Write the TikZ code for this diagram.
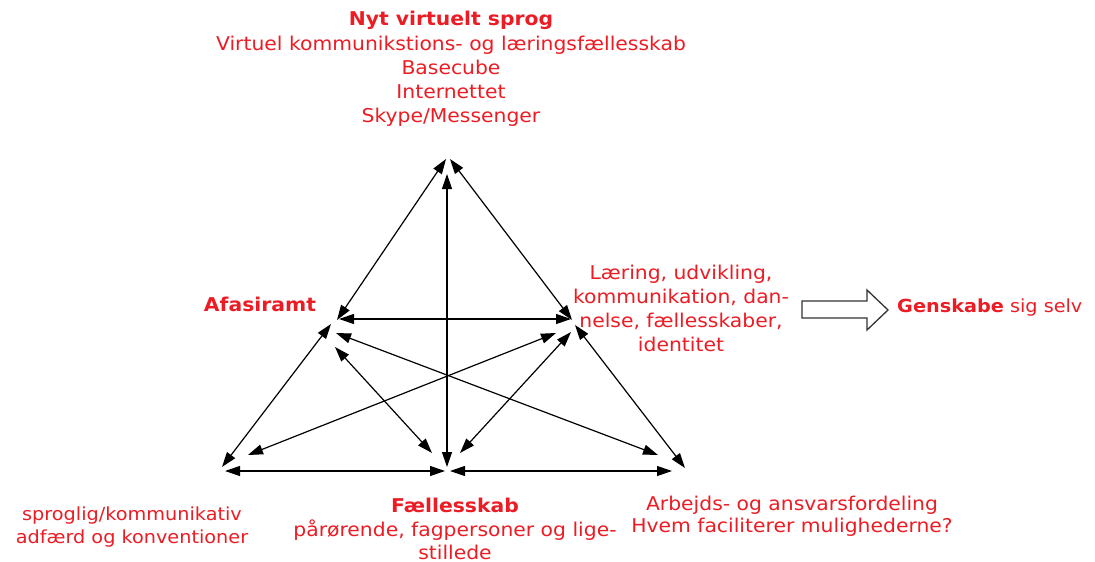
\documentclass[tikz,border=0pt]{standalone}
\usepackage{fontspec}
\setmainfont{DejaVu Sans}[FakeStretch=1.07]
\usetikzlibrary{arrows.meta}
\definecolor{labelred}{RGB}{235,28,36}
\tikzset{
  lbl/.style={text=labelred, align=center, inner sep=0pt, font=\fontsize{19}{24}\selectfont},
  link/.style={draw=black, line width=1.2pt, {Triangle[length=15pt,width=10pt]}-{Triangle[length=15pt,width=10pt]}},
  blockarrow/.style={draw=black!80, line width=1.3pt, fill=white, line join=miter}
}
\begin{document}
\begin{tikzpicture}[x=1pt,y=-1pt]
\useasboundingbox (0,0) rectangle (1095,562);

% labels
\node[lbl] (top) at (451,69) {\textbf{Nyt virtuelt sprog}\\[1pt]
  Virtuel kommunikstions- og læringsfællesskab\\Basecube\\Internettet\\Skype/Messenger};
\node[lbl] (afa) at (260,304) {\textbf{Afasiramt}};
\node[lbl] (lear) at (681,308.5) {Læring, udvikling,\\kommunikation, dan-\\nelse, fællesskaber,\\identitet};
\node[lbl, anchor=west, font=\fontsize{18}{24}\selectfont] (gen) at (897,308) {\textbf{Genskabe} sig selv};
\node[lbl, font=\fontsize{18}{24}\selectfont] (spr) at (132,527.5) {sproglig/kommunikativ\\[-1pt]adfærd og konventioner};
\node[lbl] (fal) at (455,528.5) {\textbf{Fællesskab}\\pårørende, fagpersoner og lige-\\[-1pt]stillede};
\node[lbl] (arb) at (792,516) {Arbejds- og ansvarsfordeling\\[-2pt]Hvem faciliterer mulighederne?};

% connector ends around the six corners
\coordinate (Ta) at (446,159);  \coordinate (Tl) at (450,159);  \coordinate (Tf) at (447,174);
\coordinate (At) at (337,320);  \coordinate (Al) at (339,319);  \coordinate (Ab) at (331,324);
\coordinate (Ar) at (336,333);  \coordinate (Af) at (335,347);
\coordinate (Lt) at (572,320);  \coordinate (La) at (571,319);  \coordinate (Lr) at (575,325);
\coordinate (Lf) at (571,332);  \coordinate (Lb) at (556,333);
\coordinate (Ba) at (222,467);  \coordinate (Bf) at (225,471);  \coordinate (Bl) at (248,455);
\coordinate (Ft) at (447,467);  \coordinate (Fb) at (445,471);  \coordinate (Fr) at (450,471);
\coordinate (Fa) at (432,453);  \coordinate (Fl) at (460,453);
\coordinate (Ra) at (658,455);  \coordinate (Rl) at (685,468);  \coordinate (Rf) at (672,471);

% connectors
\draw[link] (Ta) -- (At);
\draw[link] (Tl) -- (Lt);
\draw[link] (Tf) -- (Ft);
\draw[link] (Al) -- (La);
\draw[link] (Ab) -- (Ba);
\draw[link] (Lr) -- (Rl);
\draw[link] (Bf) -- (Fb);
\draw[link] (Fr) -- (Rf);
\draw[link] (Af) -- (Fa);
\draw[link] (Lf) -- (Fl);
\draw[link] (Ar) -- (Ra);
\draw[link] (Lb) -- (Bl);

% outlined block arrow
\draw[blockarrow] (802,301) -- (867,301) -- (867,290) -- (888,310) -- (867,330) -- (867,318) -- (802,318) -- cycle;
\end{tikzpicture}
\end{document}
